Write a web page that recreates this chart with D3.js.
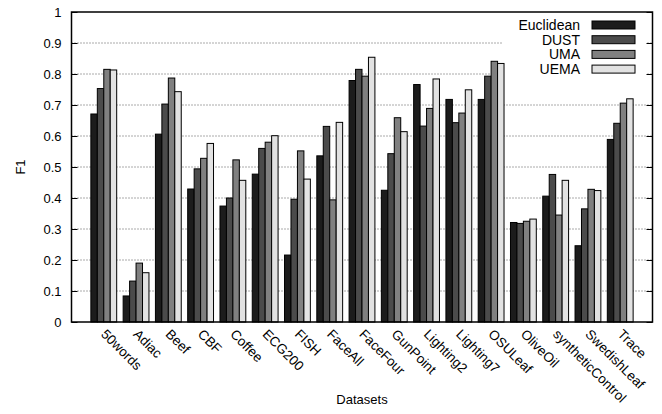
<!DOCTYPE html>
<html>
<head>
<meta charset="utf-8">
<script src="https://cdn.jsdelivr.net/npm/d3@7"></script>
<style>
  html, body { margin: 0; padding: 0; background: #fff; }
  svg { display: block; font-family: "Liberation Sans", Arial, Helvetica, sans-serif; }
</style>
</head>
<body>
<svg id="chart" width="662" height="414"></svg>
<script>
const categories = ["50words","Adiac","Beef","CBF","Coffee","ECG200","FISH","FaceAll","FaceFour","GunPoint","Lighting2","Lighting7","OSULeaf","OliveOil","syntheticControl","SwedishLeaf","Trace"];
const seriesNames = ["Euclidean","DUST","UMA","UEMA"];
const euclidean = [0.671,0.084,0.606,0.429,0.374,0.477,0.216,0.536,0.779,0.425,0.766,0.718,0.718,0.321,0.406,0.246,0.589];
const dust      = [0.753,0.132,0.703,0.494,0.400,0.560,0.396,0.631,0.815,0.543,0.632,0.643,0.793,0.318,0.476,0.365,0.641];
const uma       = [0.815,0.190,0.787,0.528,0.523,0.580,0.552,0.394,0.793,0.659,0.689,0.674,0.841,0.325,0.345,0.428,0.706];
const uema      = [0.813,0.159,0.743,0.576,0.457,0.601,0.461,0.644,0.854,0.614,0.784,0.749,0.834,0.332,0.457,0.424,0.720];
const yTicks = [0,0.1,0.2,0.3,0.4,0.5,0.6,0.7,0.8,0.9,1];
const yTickLabels = ["0","0.1","0.2","0.3","0.4","0.5","0.6","0.7","0.8","0.9","1"];
const xTitle = "Datasets";
const yTitle = "F1";

const series = [euclidean, dust, uma, uema];
const colors = ["#1c1c1c","#4b4b4b","#808080","#e2e2e2"];

const svg = d3.select("#chart");
const L = 71.5, R = 652.5, T = 12, B = 322;
const x = d3.scaleLinear().domain([-1, categories.length]).range([L, R]);
const y = d3.scaleLinear().domain([0, 1]).range([B, T]);
const barW = 0.2;

// gridlines
svg.append("g").selectAll("line").data(yTicks.filter(d => d > 0 && d < 1)).join("line")
  .attr("x1", L).attr("x2", R)
  .attr("y1", d => y(d)).attr("y2", d => y(d))
  .attr("stroke", "#555").attr("stroke-width", 1)
  .attr("stroke-dasharray", "1,2");

// legend background (covers gridlines)
svg.append("rect").attr("x", 503).attr("y", 14).attr("width", 143).attr("height", 63).attr("fill", "#fff");

// bars
const rows = [];
categories.forEach((c, i) => series.forEach((s, j) => rows.push({i, j, v: s[i]})));
svg.append("g").selectAll("rect").data(rows).join("rect")
  .attr("x", d => x(d.i - 0.4 + barW * d.j))
  .attr("width", d => x(barW) - x(0))
  .attr("y", d => y(d.v))
  .attr("height", d => y(0) - y(d.v))
  .attr("fill", d => colors[d.j])
  .attr("stroke", "#000").attr("stroke-width", 1);

// y axis left
const yAxis = d3.axisLeft(y).tickValues(yTicks).tickFormat((d, k) => yTickLabels[k]).tickSizeInner(-6).tickSizeOuter(0).tickPadding(10);
const gy = svg.append("g").attr("transform", `translate(${L},0)`).call(yAxis);
gy.select(".domain").remove();
gy.selectAll("text").attr("font-size", 13).attr("fill", "#000").attr("font-family", "Liberation Sans, Arial, sans-serif");
gy.selectAll("line").attr("stroke", "#000");

// right mirror ticks
const yAxisR = d3.axisRight(y).tickValues(yTicks).tickFormat("").tickSizeInner(-6).tickSizeOuter(0);
const gr = svg.append("g").attr("transform", `translate(${R},0)`).call(yAxisR);
gr.select(".domain").remove();
gr.selectAll("line").attr("stroke", "#000");

// frame
svg.append("rect").attr("x", L).attr("y", T).attr("width", R - L).attr("height", B - T)
  .attr("fill", "none").attr("stroke", "#000").attr("stroke-width", 1.5);

// x labels
const xAxis = d3.axisBottom(x).tickValues(d3.range(categories.length)).tickFormat(i => categories[i]).tickSize(0);
const gx = svg.append("g").attr("transform", `translate(0,${B})`).call(xAxis);
gx.select(".domain").remove();
gx.selectAll("text")
  .attr("font-size", 13.5).attr("fill", "#000").attr("font-family", "Liberation Sans, Arial, sans-serif")
  .attr("text-anchor", "start")
  .attr("dy", null).attr("y", 0)
  .attr("transform", "translate(-4,13) rotate(45)");

// titles
svg.append("text").attr("x", (L + R) / 2).attr("y", 404).attr("text-anchor", "middle")
  .attr("font-size", 13).text(xTitle);
svg.append("text").attr("transform", `translate(25,${(T + B) / 2}) rotate(-90)`).attr("text-anchor", "middle")
  .attr("font-size", 13).text(yTitle);

// legend
const lg = svg.append("g");
seriesNames.forEach((n, j) => {
  const cy = 25 + j * 14.7;
  lg.append("text").attr("x", 580).attr("y", cy + 5).attr("text-anchor", "end").attr("font-size", 14).text(n);
  lg.append("rect").attr("x", 592).attr("y", cy - 4).attr("width", 43).attr("height", 8)
    .attr("fill", colors[j]).attr("stroke", "#000").attr("stroke-width", 1);
});
</script>
</body>
</html>
